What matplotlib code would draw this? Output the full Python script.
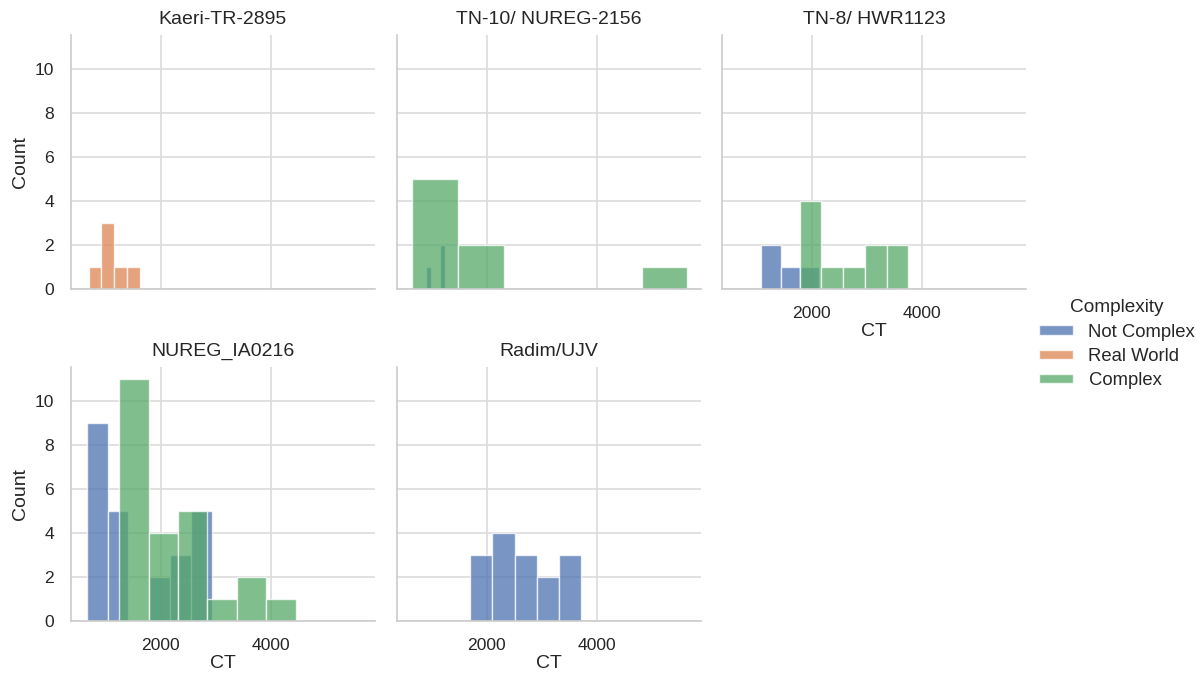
import numpy as np
import matplotlib.pyplot as plt
import seaborn as sns

sns.set_theme(style="whitegrid")
plt.rcParams['font.family'] = ['Liberation Sans', 'DejaVu Sans']

# hue levels and colours (seaborn "deep")
levels = ['Not Complex', 'Real World', 'Complex']
colors = {'Not Complex': '#4C72B0', 'Real World': '#DD8452', 'Complex': '#55A868'}

titles = ['Kaeri-TR-2895', 'TN-10/ NUREG-2156', 'TN-8/ HWR1123', 'NUREG_IA0216', 'Radim/UJV']

# histogram bins (CT) and counts, per panel and complexity level
kaeri_real_edges = [682, 916, 1150, 1383, 1617]
kaeri_real_counts = [1, 3, 1, 1]

tn10_not_edges = [888, 976, 1064, 1152, 1240]
tn10_not_counts = [1, 0, 0, 2]
tn10_cx_edges = [633, 1470, 2308, 3145, 3983, 4820, 5658]
tn10_cx_counts = [5, 2, 0, 0, 0, 1]

tn8_not_edges = [1080, 1431, 1782, 2134]
tn8_not_counts = [2, 1, 1]
tn8_cx_edges = [1776, 2172, 2569, 2965, 3362, 3758]
tn8_cx_counts = [4, 1, 1, 2, 2]

ia_not_edges = [646, 1026, 1406, 1785, 2165, 2544, 2924]
ia_not_counts = [9, 5, 0, 2, 3, 5]
ia_cx_edges = [1240, 1776, 2312, 2848, 3384, 3920, 4456]
ia_cx_counts = [11, 4, 5, 1, 2, 1]

radim_not_edges = [1697, 2101, 2504, 2908, 3311, 3715]
radim_not_counts = [3, 4, 3, 2, 3]

panels = [
    {'Real World': (kaeri_real_edges, kaeri_real_counts)},
    {'Not Complex': (tn10_not_edges, tn10_not_counts),
     'Complex': (tn10_cx_edges, tn10_cx_counts)},
    {'Not Complex': (tn8_not_edges, tn8_not_counts),
     'Complex': (tn8_cx_edges, tn8_cx_counts)},
    {'Not Complex': (ia_not_edges, ia_not_counts),
     'Complex': (ia_cx_edges, ia_cx_counts)},
    {'Not Complex': (radim_not_edges, radim_not_counts)},
]

fig = plt.figure(figsize=(12.03, 6.79), dpi=100)
W, H = 1203, 679
lefts = [71, 397, 722]
bottoms = [289, 621]
aw, ah = 304, 254

for i, title in enumerate(titles):
    r, c = divmod(i, 3)
    ax = fig.add_axes([lefts[c] / W, 1 - bottoms[r] / H, aw / W, ah / H])
    # green drawn last so it sits on top of the blue bars
    for lev in levels:
        if lev in panels[i]:
            edges, counts = panels[i][lev]
            ax.hist(edges[:-1], bins=edges, weights=counts, color=colors[lev],
                    alpha=0.75, edgecolor='white', linewidth=1)
    ax.set_xlim(360, 5905)
    ax.set_ylim(0, 11.55)
    ax.set_xticks([2000, 4000])
    ax.set_yticks(range(0, 11, 2))
    ax.set_title(title, fontsize=14, color='#262626', pad=8)
    ax.tick_params(length=0, pad=12, labelsize=12.6, colors='#262626')
    ax.grid(True, color='#dcdcdc', linewidth=1.2)
    for s in ['top', 'right']:
        ax.spines[s].set_visible(False)
    for s in ['left', 'bottom']:
        ax.spines[s].set_color('#cccccc')
        ax.spines[s].set_linewidth(1.2)
    if c == 0:
        ax.set_ylabel('Count', fontsize=14, color='#262626')
    else:
        ax.tick_params(labelleft=False)
    if r == 1 or c == 2:
        ax.set_xlabel('CT', fontsize=14, color='#262626', labelpad=2)
    else:
        ax.tick_params(labelbottom=False)

handles = [plt.Rectangle((0, 0), 1, 1, color=colors[l], alpha=0.75, ec='white') for l in levels]
leg = fig.legend(handles, levels, title='Complexity', loc='center left',
                 bbox_to_anchor=(1022 / W, 0.493), frameon=False, fontsize=13.3,
                 title_fontsize=13.7, handlelength=1.85, handleheight=0.4,
                 handletextpad=0.85, labelspacing=0.4)

fig.savefig('out.png', dpi=100)
